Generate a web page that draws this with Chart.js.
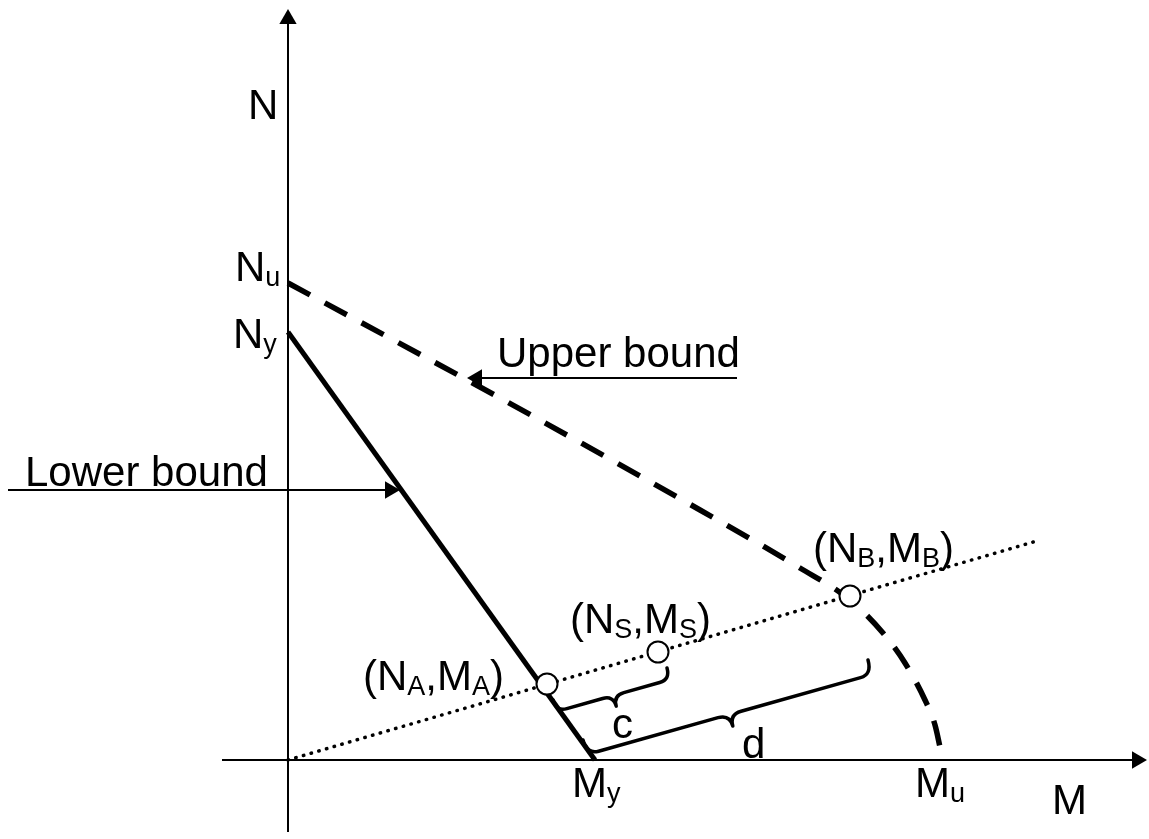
<!DOCTYPE html>
<html>
<head>
<meta charset="utf-8">
<title>Interaction diagram</title>
<script src="https://cdn.jsdelivr.net/npm/chart.js@4.4.1/dist/chart.umd.min.js"></script>
<style>
  html, body { margin: 0; padding: 0; background: #fff; }
  #wrap { width: 1149px; height: 839px; }
</style>
</head>
<body>
<div id="wrap"><canvas id="chart"></canvas></div>
<script>
// axes (M horizontal, N vertical), in diagram units
const mAxisM = [-0.66, 8.49];
const mAxisN = [0, 0];
const nAxisM = [0, 0];
const nAxisN = [-0.72, 7.41];

// lower bound: straight line N_y -> M_y
const lowerBoundM = [0, 3.07];
const lowerBoundN = [4.28, 0];

// upper bound: dashed curve N_u -> M_u
const upperBoundM = [0, 2.12, 4.12, 5.12, 5.62, 5.95, 6.17, 6.37, 6.47, 6.52];
const upperBoundN = [4.77, 3.62, 2.50, 1.92, 1.60, 1.27, 0.97, 0.60, 0.35, 0.13];

// dotted load path from the origin
const loadPathM = [0, 7.52];
const loadPathN = [0, 2.20];

// marked states on the load path
const stateNames = ["A", "S", "B"];
const stateM = [2.59, 3.70, 5.62];
const stateN = [0.76, 1.08, 1.64];

// callout arrows (text end -> arrow head)
const upperCalloutM = [4.49, 1.89];
const upperCalloutN = [3.82, 3.82];
const lowerCalloutM = [-2.80, 1.02];
const lowerCalloutN = [2.70, 2.70];

// braces c and d
const braceNames = ["c", "d"];
const braceStartM = [2.65, 2.95];
const braceStartN = [0.60, 0.20];
const braceEndM = [3.79, 5.80];
const braceEndN = [0.92, 1.00];

// text labels, "_x" marks a subscript
const labelTexts = ["N", "N_u", "N_y", "Upper bound", "Lower bound", "(N_B,M_B)", "(N_S,M_S)", "(N_A,M_A)", "c", "d", "M_y", "M_u", "M"];
const labelM = [-0.40, -0.53, -0.55, 2.09, -2.63, 5.25, 2.82, 0.75, 3.24, 4.54, 2.84, 6.27, 7.64];
const labelN = [6.41, 4.79, 4.12, 3.93, 2.74, 1.98, 1.27, 0.70, 0.22, 0.02, -0.37, -0.37, -0.54];

const MAIN_FONT = '42px "Liberation Sans", Arial, sans-serif';
const SUB_FONT = '27px "Liberation Sans", Arial, sans-serif';
const SUB_DROP = 5;
const BRACE_STYLE = { c: { depth: 12, curl: 11 }, d: { depth: 15, curl: 12 } };

const toPoints = (xs, ys) => xs.map((x, i) => ({ x, y: ys[i] }));

const arrowLine = (xs, ys, rotation, radius = 10) => ({
  data: toPoints(xs, ys),
  borderColor: "#000",
  borderWidth: 2,
  pointStyle: "triangle",
  pointRadius: [0, radius],
  pointRotation: [0, rotation],
  pointBackgroundColor: "#000",
  pointBorderColor: "#000",
  pointBorderWidth: 0,
  order: 3,
  clip: false
});

const drawLabel = (ctx, text, px, py) => {
  let cursor = px;
  text.split(/(_.)/).filter(Boolean).forEach((part) => {
    if (part.startsWith("_")) {
      ctx.font = SUB_FONT;
      ctx.fillText(part[1], cursor, py + SUB_DROP);
      cursor += ctx.measureText(part[1]).width;
    } else {
      ctx.font = MAIN_FONT;
      ctx.fillText(part, cursor, py);
      cursor += ctx.measureText(part).width;
    }
  });
};

const drawBrace = (ctx, x1, y1, x2, y2, depth, curl) => {
  const len = Math.hypot(x2 - x1, y2 - y1);
  const tx = (x2 - x1) / len;
  const ty = (y2 - y1) / len;
  const nx = -ty;
  const ny = tx;
  const at = (s, h) => [x1 + tx * s + nx * h, y1 + ty * s + ny * h];
  const mid = len / 2;

  ctx.beginPath();
  ctx.moveTo(...at(0, 0));
  ctx.quadraticCurveTo(...at(0, depth), ...at(curl, depth));
  ctx.lineTo(...at(mid - curl, depth));
  ctx.quadraticCurveTo(...at(mid, depth), ...at(mid, depth + curl));
  ctx.quadraticCurveTo(...at(mid, depth), ...at(mid + curl, depth));
  ctx.lineTo(...at(len - curl, depth));
  ctx.quadraticCurveTo(...at(len, depth), ...at(len, 0));
  ctx.stroke();
};

const annotations = {
  id: "annotations",
  afterDatasetsDraw(chart) {
    const { ctx, scales: { x, y } } = chart;
    ctx.save();
    ctx.strokeStyle = "#000";
    ctx.lineWidth = 3.5;
    ctx.lineCap = "round";
    ctx.lineJoin = "round";
    braceNames.forEach((name, i) => {
      const style = BRACE_STYLE[name];
      drawBrace(
        ctx,
        x.getPixelForValue(braceStartM[i]), y.getPixelForValue(braceStartN[i]),
        x.getPixelForValue(braceEndM[i]), y.getPixelForValue(braceEndN[i]),
        style.depth, style.curl
      );
    });

    ctx.fillStyle = "#000";
    ctx.textAlign = "left";
    ctx.textBaseline = "alphabetic";
    labelTexts.forEach((text, i) => {
      drawLabel(ctx, text, x.getPixelForValue(labelM[i]), y.getPixelForValue(labelN[i]));
    });
    ctx.restore();
  }
};

new Chart(document.getElementById("chart"), {
  type: "line",
  data: {
    datasets: [
      {
        label: "States",
        data: toPoints(stateM, stateN),
        showLine: false,
        pointStyle: "circle",
        pointRadius: 10.5,
        pointBackgroundColor: "#fff",
        pointBorderColor: "#000",
        pointBorderWidth: 2,
        order: 0,
        clip: false
      },
      {
        label: "Upper bound",
        data: toPoints(upperBoundM, upperBoundN),
        borderColor: "#000",
        borderWidth: 5.5,
        borderDash: [25, 16.8],
        cubicInterpolationMode: "monotone",
        pointRadius: 0,
        order: 1,
        clip: false
      },
      {
        label: "Lower bound",
        data: toPoints(lowerBoundM, lowerBoundN),
        borderColor: "#000",
        borderWidth: 5,
        pointRadius: 0,
        order: 2,
        clip: false
      },
      {
        label: "Load path",
        data: toPoints(loadPathM, loadPathN),
        borderColor: "#000",
        borderWidth: 3.5,
        borderDash: [0.5, 7.5],
        borderCapStyle: "round",
        pointRadius: 0,
        order: 2,
        clip: false
      },
      arrowLine(mAxisM, mAxisN, 90),
      arrowLine(nAxisM, nAxisN, 0),
      arrowLine(upperCalloutM, upperCalloutN, 270),
      arrowLine(lowerCalloutM, lowerCalloutN, 90)
    ]
  },
  options: {
    responsive: true,
    maintainAspectRatio: false,
    animation: false,
    layout: { padding: 0, autoPadding: false },
    events: [],
    scales: {
      x: { type: "linear", min: -2.88, max: 8.61, display: false },
      y: { type: "linear", min: -0.79, max: 7.60, display: false }
    },
    plugins: {
      legend: { display: false },
      tooltip: { enabled: false }
    }
  },
  plugins: [annotations]
});
</script>
</body>
</html>
